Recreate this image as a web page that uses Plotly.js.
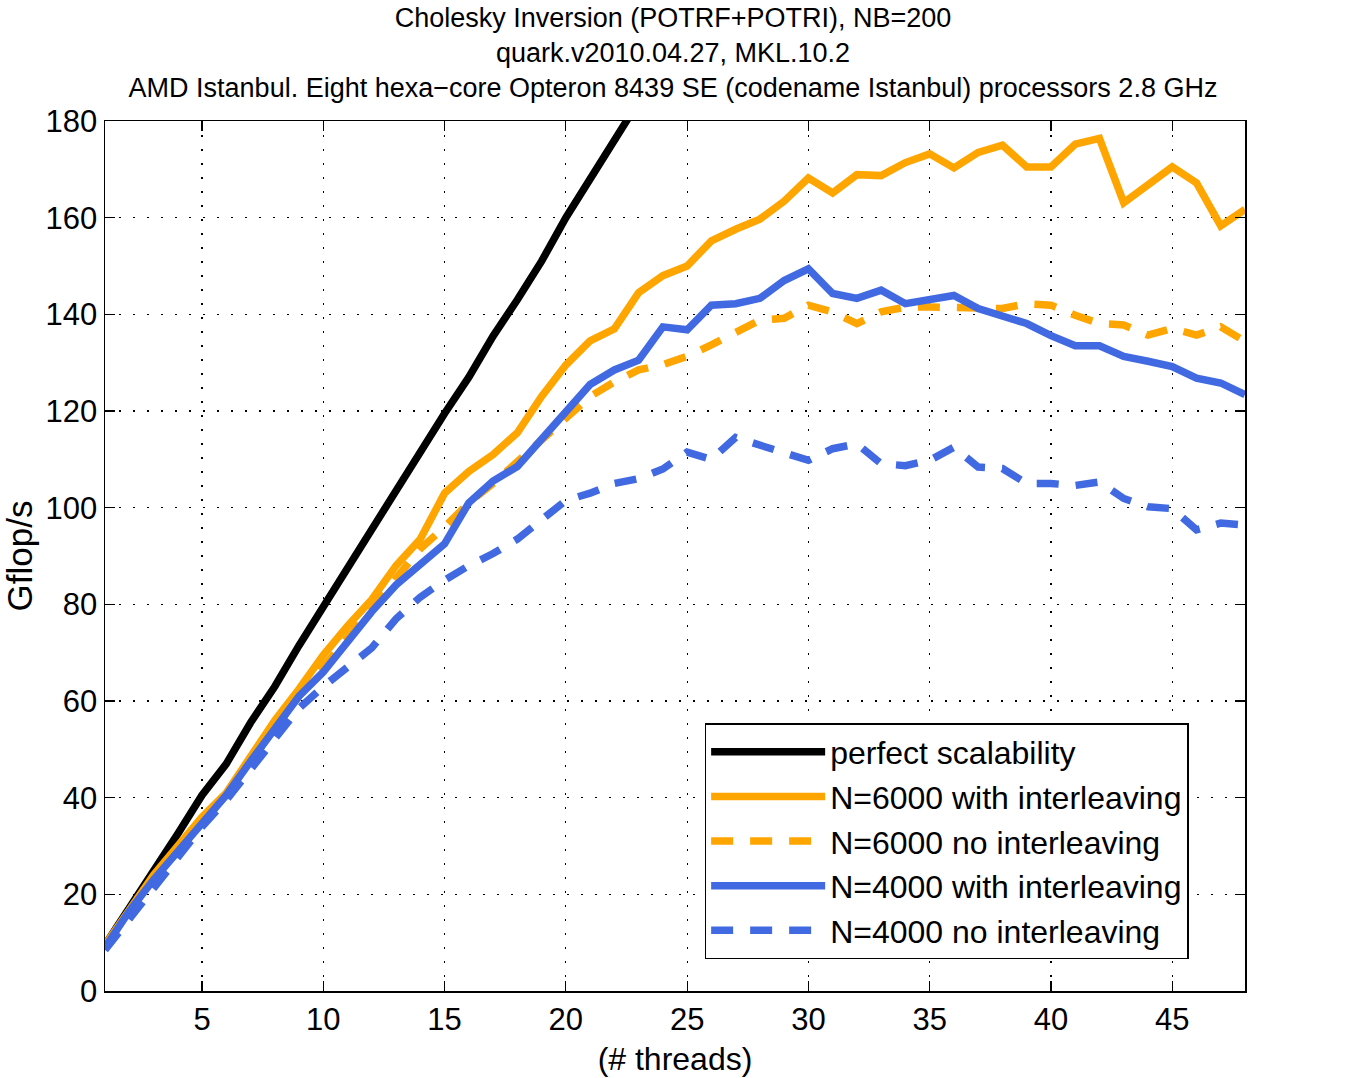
<!DOCTYPE html>
<html>
<head>
<meta charset="utf-8">
<script src="https://cdn.plot.ly/plotly-3.0.1.min.js"></script>
<style>html,body{margin:0;padding:0;background:#fff;}#chart{width:1346px;height:1078px;}</style>
</head>
<body>
<div id="chart"></div>
<script>
const threads = [1,2,3,4,5,6,7,8,9,10,11,12,13,14,15,16,17,18,19,20,21,22,23,24,25,26,27,28,29,30,31,32,33,34,35,36,37,38,39,40,41,42,43,44,45,46,47,48];
const perfectThreads = [1,2,3,4,5,6,7,8,9,10,11,12,13,14,15,16,17,18,19,20,21,22,23];
const perfect = [9.5,17,25,32.5,40.5,47,55.5,63,71.5,79.5,87.5,96,103.5,111.5,119.5,127,135.5,143,151,160,168,176,184];
const n6000Inter = [9.5,17,24,30,36,41,48.5,56,62.5,69.5,75.5,81,88,93.5,103,107.5,111,115.5,123,129.5,134.5,137,144.5,148,150,155.2,157.6,159.7,163.4,168.2,165.1,168.9,168.7,171.4,173.2,170.3,173.5,175,170.5,170.5,175.2,176.4,163.1,166.8,170.5,167.2,158.3,161.7];
const n6000NoInter = [9,16.5,23,29,34.5,40.5,47.5,54.5,61,67,73,79,85.5,91.5,96,101,105,109.5,114,118.5,123,126,128.5,129.6,131.3,133.7,136.4,138.8,139.2,141.9,140.5,138.1,140.5,141.5,141.5,141.5,141.5,141.2,142.2,141.9,139.8,138.1,137.8,135.7,137.1,135.7,137.4,134.4];
const n4000Inter = [9,16.5,23,29,34.5,40.5,47.5,54,61,66,72.5,78.5,84,88.5,92.5,101,105.5,108.5,114,120,125.5,128.5,130.5,137.4,136.8,141.9,142.2,143.3,147,149.4,144.3,143.3,145,142.2,142.9,143.9,141.2,139.8,138.1,135.6,133.5,133.5,131.3,130.3,129.2,126.8,125.8,123.4];
const n4000NoInter = [8.5,15,21.5,28,34,39.5,46,52,58.5,63,67,71,77,81.5,85,88,90.5,93.5,97.5,101.5,103,105,106,108,111.5,110,114.5,112.8,111.5,109.8,112.2,113.2,109.1,108.7,109.8,112.5,108.4,108.1,105,105,104.6,105.3,101.9,100.2,99.8,95.4,96.8,96.4];
const seriesNames = ["perfect scalability","N=6000 with interleaving","N=6000 no interleaving","N=4000 with interleaving","N=4000 no interleaving"];
const xTicks = [5,10,15,20,25,30,35,40,45];
const yTicks = [0,20,40,60,80,100,120,140,160,180];

const ORANGE = "#FFA500", BLUE = "#4169E1";
const LW = 7.5;
const dashPat = "22px,17px";

const traces = [
  {x: perfectThreads, y: perfect, name: seriesNames[0], mode: "lines", line: {color: "#000000", width: LW}},
  {x: threads, y: n6000Inter, name: seriesNames[1], mode: "lines", line: {color: ORANGE, width: LW}},
  {x: threads, y: n6000NoInter, name: seriesNames[2], mode: "lines", line: {color: ORANGE, width: LW, dash: dashPat}},
  {x: threads, y: n4000Inter, name: seriesNames[3], mode: "lines", line: {color: BLUE, width: LW}},
  {x: threads, y: n4000NoInter, name: seriesNames[4], mode: "lines", line: {color: BLUE, width: LW, dash: dashPat}}
];

const FONT = "Liberation Sans, Arial, sans-serif";
const axisCommon = {
  showline: true, linecolor: "#000", linewidth: 1.5, mirror: "ticks",
  ticks: "inside", ticklen: 10, tickwidth: 1.2, tickcolor: "#000",
  showgrid: true, gridcolor: "#000", gridwidth: 1.2, griddash: "2px,12px",
  zeroline: false, tickfont: {family: FONT, size: 31, color: "#000"}
};

const layout = {
  width: 1346, height: 1078,
  paper_bgcolor: "#fff", plot_bgcolor: "#fff",
  margin: {l: 105, r: 101, t: 121, b: 87},
  font: {family: FONT, color: "#000"},
  title: {
    text: "Cholesky Inversion (POTRF+POTRI), NB=200<br>quark.v2010.04.27, MKL.10.2<br>AMD Istanbul. Eight hexa\u2212core Opteron 8439 SE (codename Istanbul) processors 2.8 GHz",
    font: {family: FONT, size: 27, color: "#000"},
    x: 0.5, xanchor: "center", yref: "container", y: 0.975, yanchor: "bottom", pad: {b: 0}
  },
  xaxis: Object.assign({}, axisCommon, {
    range: [1, 48], tickvals: xTicks, ticktext: xTicks.map(String),
    title: {text: "(# threads)", font: {family: FONT, size: 32, color: "#000"}, standoff: 12}
  }),
  yaxis: Object.assign({}, axisCommon, {
    range: [0, 180], tickvals: yTicks, ticktext: yTicks.map(String),
    title: {text: "Gflop/s", font: {family: FONT, size: 35, color: "#000"}, standoff: 36}
  }),
  showlegend: true,
  legend: {
    x: 0.526, y: 0.308, xanchor: "left", yanchor: "top",
    bgcolor: "#fff", bordercolor: "#000", borderwidth: 1.5,
    font: {family: FONT, size: 32, color: "#000"},
    tracegroupgap: 0, itemwidth: 114
  }
};

Plotly.newPlot("chart", traces, layout, {displayModeBar: false, staticPlot: true});
</script>
</body>
</html>
